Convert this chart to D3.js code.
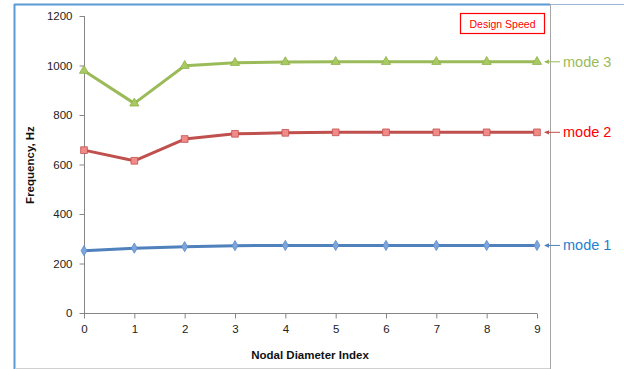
<!DOCTYPE html>
<html><head><meta charset="utf-8">
<script src="https://cdn.jsdelivr.net/npm/d3@7"></script>
<style>body{margin:0;background:#fff;}svg{display:block;font-family:"Liberation Sans",Arial,sans-serif;}</style>
</head><body><svg id="c" width="624" height="369"></svg>
<script>
const nodalDiameters = [0,1,2,3,4,5,6,7,8,9];
const mode1 = [252,262,268,272,273,273,273,273,273,273];
const mode2 = [658,615,703,724,728,730,730,730,730,730];
const mode3 = [979,847,999,1011,1014,1015,1015,1015,1015,1015];
const yTicks = [0,200,400,600,800,1000,1200];
const seriesNames = ["mode 1","mode 2","mode 3"];

const svg = d3.select("#c");
const x = d3.scaleLinear().domain([0,9]).range([84,537]);
const y = d3.scaleLinear().domain([0,1200]).range([313,16]);

// frame
svg.append("line").attr("x1",14.5).attr("x2",14.5).attr("y1",4).attr("y2",369).attr("stroke","#5B9BD5").attr("stroke-width",2);
svg.append("line").attr("x1",14).attr("x2",550).attr("y1",4.5).attr("y2",4.5).attr("stroke","#5B9BD5").attr("stroke-width",2);
svg.append("line").attr("x1",550).attr("x2",624).attr("y1",4.5).attr("y2",4.5).attr("stroke","#9DB7D5").attr("stroke-width",1);
svg.append("line").attr("x1",550.5).attr("x2",550.5).attr("y1",4).attr("y2",369).attr("stroke","#A6A6A6");
svg.append("line").attr("x1",15).attr("x2",550).attr("y1",368.5).attr("y2",368.5).attr("stroke","#D0D0D0");

// axes
const yAxis = d3.axisLeft(y).tickValues(yTicks).tickSize(5).tickPadding(7).tickFormat(d3.format("d"));
const gy = svg.append("g").attr("transform","translate(84.5,0)").call(yAxis);
const xAxis = d3.axisBottom(x).tickValues(nodalDiameters).tickSize(5).tickPadding(6).tickFormat(d3.format("d"));
const gx = svg.append("g").attr("transform","translate(0,313.5)").call(xAxis);
[gx,gy].forEach(g=>{
  g.select(".domain").attr("stroke","#868686");
  g.selectAll(".tick line").attr("stroke","#868686");
  g.selectAll(".tick text").attr("fill","#222").style("font-size","11.5px").style("font-family","Liberation Sans, Arial, sans-serif");
});
gx.select(".domain").attr("d","M84,0H537");
gy.select(".domain").attr("d","M0,16V313");

// titles
svg.append("text").attr("x",310).attr("y",359).attr("text-anchor","middle")
  .style("font-size","11.5px").style("font-weight","bold").attr("fill","#111").text("Nodal Diameter Index");
svg.append("text").attr("transform","translate(34,165) rotate(-90)").attr("text-anchor","middle")
  .style("font-size","11.5px").style("font-weight","bold").attr("fill","#111").text("Frequency, Hz");

const line = d3.line().x((d,i)=>x(nodalDiameters[i])).y(d=>y(d));
const series = [
  {name:seriesNames[0], data:mode1, color:"#4F81BD", fill:"#7EA6DC", stroke:"#5A8AC6", label:"#1F7FCF", marker:"diamond"},
  {name:seriesNames[1], data:mode2, color:"#C0504D", fill:"#F08B89", stroke:"#C0504D", label:"#FF0000", marker:"square"},
  {name:seriesNames[2], data:mode3, color:"#9BBB59", fill:"#A9CA62", stroke:"#8DB04A", label:"#9BBB59", marker:"triangle"}
];
const symMap = {diamond:d3.symbolDiamond, square:d3.symbolSquare, triangle:d3.symbolTriangle};
const sizeMap = {diamond:30, square:45, triangle:36};
series.forEach(s=>{
  svg.append("path").datum(s.data).attr("d",line).attr("fill","none").attr("stroke",s.color).attr("stroke-width",3).attr("stroke-linejoin","round");
  svg.append("g").selectAll("path").data(s.data).join("path")
    .attr("transform",(d,i)=>`translate(${x(nodalDiameters[i])},${y(d)})`)
    .attr("d",d3.symbol().type(symMap[s.marker]).size(sizeMap[s.marker]))
    .attr("fill",s.fill).attr("stroke",s.stroke).attr("stroke-width",0.8);
  const ly = y(s.data[s.data.length-1]);
  svg.append("line").attr("x1",545).attr("x2",560).attr("y1",ly).attr("y2",ly).attr("stroke",s.color).attr("stroke-width",1);
  svg.append("path").attr("d",`M544,${ly}L549,${ly-2.2}L549,${ly+2.2}Z`).attr("fill",s.color);
  svg.append("text").attr("x",563).attr("y",ly+5).style("font-size","14.5px").attr("fill",s.label).text(s.name);
});

// Design Speed box
svg.append("rect").attr("x",460.5).attr("y",13.5).attr("width",84).attr("height",20).attr("fill","#fff").attr("stroke","#FF0000").attr("stroke-width",1.2);
svg.append("text").attr("x",502.5).attr("y",27.5).attr("text-anchor","middle").style("font-size","10.5px").attr("fill","#FF0000").text("Design Speed");
</script></body></html>
